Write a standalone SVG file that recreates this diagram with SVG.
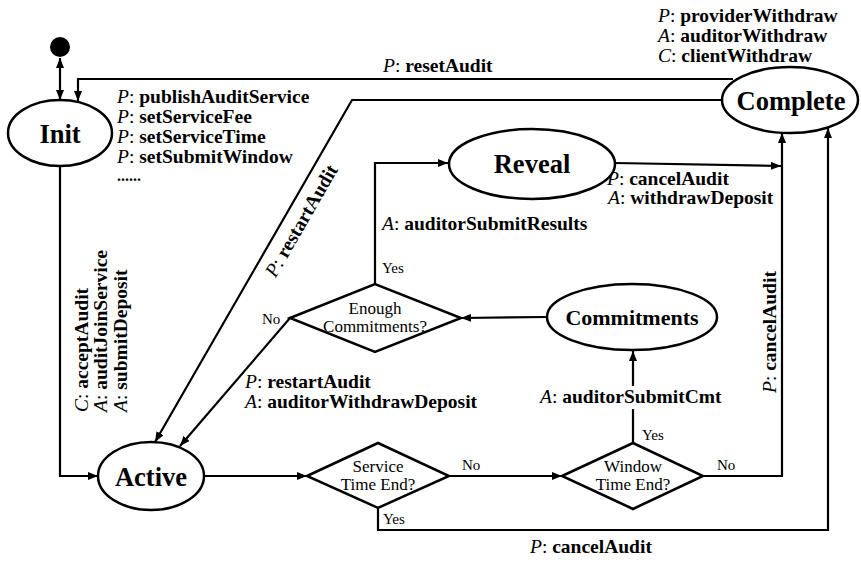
<svg xmlns="http://www.w3.org/2000/svg" width="861" height="562" viewBox="0 0 861 562" font-family="'Liberation Serif','Times New Roman',serif">
<defs>
<marker id="arr" viewBox="0 0 10 8" refX="10" refY="4" markerWidth="10" markerHeight="8" markerUnits="userSpaceOnUse" orient="auto-start-reverse">
<path d="M0,0 L10,4 L0,8 z" fill="#000"/>
</marker>
<style>
.st{fill:#fff;stroke:#000;stroke-width:2.5}
.ln{fill:none;stroke:#000;stroke-width:2.2}
.ar{marker-end:url(#arr)}
text{font-family:'Liberation Serif','Times New Roman',serif;fill:#000}
.nm{font-size:26.5px;font-weight:bold;text-anchor:middle}
.cm{font-size:22px;font-weight:bold;text-anchor:middle}
.dt{font-size:17px;text-anchor:middle}
.yn{font-size:15px}
.lb{font-size:19.5px}
.i{font-style:italic}
.b{font-weight:bold}
</style>
</defs>
<rect width="861" height="562" fill="#fff"/>

<g id="connectors">
<line class="ln" x1="60" y1="58" x2="60" y2="100" marker-start="url(#arr)" marker-end="url(#arr)"/>
<polyline class="ln ar" points="733,79 78,79 78,101"/>
<polyline class="ln ar" points="722,100 352,100 155,442"/>
<polyline class="ln ar" points="60,167 60,476 98,476"/>
<line class="ln ar" x1="204" y1="476" x2="307" y2="476"/>
<line class="ln ar" x1="449" y1="476" x2="562" y2="476"/>
<polyline class="ln ar" points="378,508 378,530 828,530 828,128"/>
<polyline class="ln ar" points="703,476 782,476 782,133"/>
<line class="ln" x1="633" y1="443" x2="633" y2="409"/>
<line class="ln ar" x1="633" y1="386" x2="633" y2="351"/>
<line class="ln ar" x1="547" y1="317" x2="461" y2="318"/>
<polyline class="ln ar" points="375,284 375,163 448,163"/>
<line class="ln ar" x1="615" y1="163" x2="781" y2="166"/>
<line class="ln ar" x1="290" y1="318" x2="180" y2="446"/>
</g>

<g id="labels">
<text class="lb" x="117" y="103"><tspan class="i">P</tspan>: <tspan class="b">publishAuditService</tspan></text>
<text class="lb" x="117" y="123"><tspan class="i">P</tspan>: <tspan class="b">setServiceFee</tspan></text>
<text class="lb" x="117" y="143"><tspan class="i">P</tspan>: <tspan class="b">setServiceTime</tspan></text>
<text class="lb" x="117" y="163"><tspan class="i">P</tspan>: <tspan class="b">setSubmitWindow</tspan></text>
<text class="b" x="117" y="181" font-size="16px">......</text>
<text class="lb" x="658" y="22"><tspan class="i">P</tspan>: <tspan class="b">providerWithdraw</tspan></text>
<text class="lb" x="658" y="42"><tspan class="i">A</tspan>: <tspan class="b">auditorWithdraw</tspan></text>
<text class="lb" x="658" y="62"><tspan class="i">C</tspan>: <tspan class="b">clientWithdraw</tspan></text>
<text class="lb" x="383" y="72"><tspan class="i">P</tspan>: <tspan class="b">resetAudit</tspan></text>
<text class="lb" x="607" y="185"><tspan class="i">P</tspan>: <tspan class="b">cancelAudit</tspan></text>
<text class="lb" x="608" y="204"><tspan class="i">A</tspan>: <tspan class="b">withdrawDeposit</tspan></text>
<text class="lb" x="382" y="230"><tspan class="i">A</tspan>: <tspan class="b">auditorSubmitResults</tspan></text>
<text class="lb" transform="translate(307,224) rotate(-60)" text-anchor="middle"><tspan class="i">P</tspan>: <tspan class="b">restartAudit</tspan></text>
<text class="lb" transform="translate(88,412) rotate(-90)"><tspan class="i">C</tspan>: <tspan class="b">acceptAudit</tspan></text>
<text class="lb" transform="translate(107,412) rotate(-90)"><tspan class="i">A</tspan>: <tspan class="b">auditJoinService</tspan></text>
<text class="lb" transform="translate(127,412) rotate(-90)"><tspan class="i">A</tspan>: <tspan class="b">submitDeposit</tspan></text>
<text class="lb" x="245" y="388"><tspan class="i">P</tspan>: <tspan class="b">restartAudit</tspan></text>
<text class="lb" x="245" y="408"><tspan class="i">A</tspan>: <tspan class="b">auditorWithdrawDeposit</tspan></text>
<text class="lb" x="540" y="403"><tspan class="i">A</tspan>: <tspan class="b">auditorSubmitCmt</tspan></text>
<text class="lb" transform="translate(776,393) rotate(-90)"><tspan class="i">P</tspan>: <tspan class="b">cancelAudit</tspan></text>
<text class="lb" x="530" y="553"><tspan class="i">P</tspan>: <tspan class="b">cancelAudit</tspan></text>
<text class="yn" x="382" y="273">Yes</text>
<text class="yn" x="262" y="324">No</text>
<text class="yn" x="462" y="470">No</text>
<text class="yn" x="717" y="470">No</text>
<text class="yn" x="642" y="440">Yes</text>
<text class="yn" x="383" y="524">Yes</text>
</g>

<g id="start">
<circle cx="60" cy="47" r="10" fill="#000"/>
</g>
<g id="init">
<ellipse class="st" cx="60" cy="133" rx="52" ry="33"/>
<text class="nm" x="60" y="143">Init</text>
</g>
<g id="complete">
<ellipse class="st" cx="790" cy="100" rx="68" ry="33"/>
<text class="nm" x="791" y="110">Complete</text>
</g>
<g id="reveal">
<ellipse class="st" cx="532" cy="164" rx="83" ry="35"/>
<text class="nm" x="532" y="173">Reveal</text>
</g>
<g id="commitments">
<ellipse class="st" cx="632" cy="317" rx="85" ry="33"/>
<text class="cm" x="632" y="325">Commitments</text>
</g>
<g id="enough">
<polygon class="st" points="290,318 375,284 461,318 375,352"/>
<text class="dt" x="375" y="314">Enough</text>
<text class="dt" x="375" y="332">Commitments?</text>
</g>
<g id="active">
<ellipse class="st" cx="151" cy="476" rx="53" ry="34"/>
<text class="nm" x="151" y="486">Active</text>
</g>
<g id="service">
<polygon class="st" points="307,476 378,443 449,476 378,508"/>
<text class="dt" x="378" y="472">Service</text>
<text class="dt" x="378" y="490">Time End?</text>
</g>
<g id="window">
<polygon class="st" points="562,476 633,443 703,476 633,509"/>
<text class="dt" x="633" y="472">Window</text>
<text class="dt" x="633" y="490">Time End?</text>
</g>
</svg>
